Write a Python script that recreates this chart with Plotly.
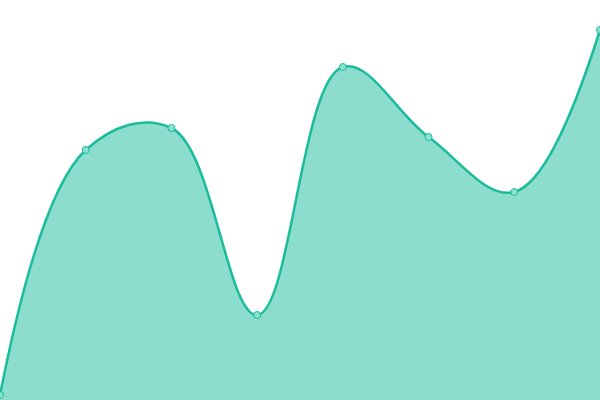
import plotly.graph_objects as go

# data
x_vals = [0, 1, 2, 3, 4, 5, 6, 7]
y_vals = [5, 250, 272, 85, 333, 263, 208, 370]

fig = go.Figure()

fig.add_trace(go.Scatter(
    x=x_vals, y=y_vals,
    mode="lines+markers",
    line=dict(color="#1abc9c", width=2.5, shape="spline", smoothing=1.1),
    marker=dict(size=7, color="#8be0cf", line=dict(color="#1abc9c", width=1)),
    fill="tozeroy",
    fillcolor="rgba(26,188,156,0.5)",
    cliponaxis=False,
    hoverinfo="skip",
))

fig.update_xaxes(visible=False, range=[0, 7])
fig.update_yaxes(visible=False, range=[0, 400])

fig.update_layout(
    width=600, height=400,
    margin=dict(l=0, r=0, t=0, b=0),
    paper_bgcolor="white",
    plot_bgcolor="white",
    showlegend=False,
)

# page body has a default margin; drop it so the chart sits at the window edge
fig.write_html(
    "out.html",
    config={"displayModeBar": False},
    post_script="document.body.style.margin='0';",
)
